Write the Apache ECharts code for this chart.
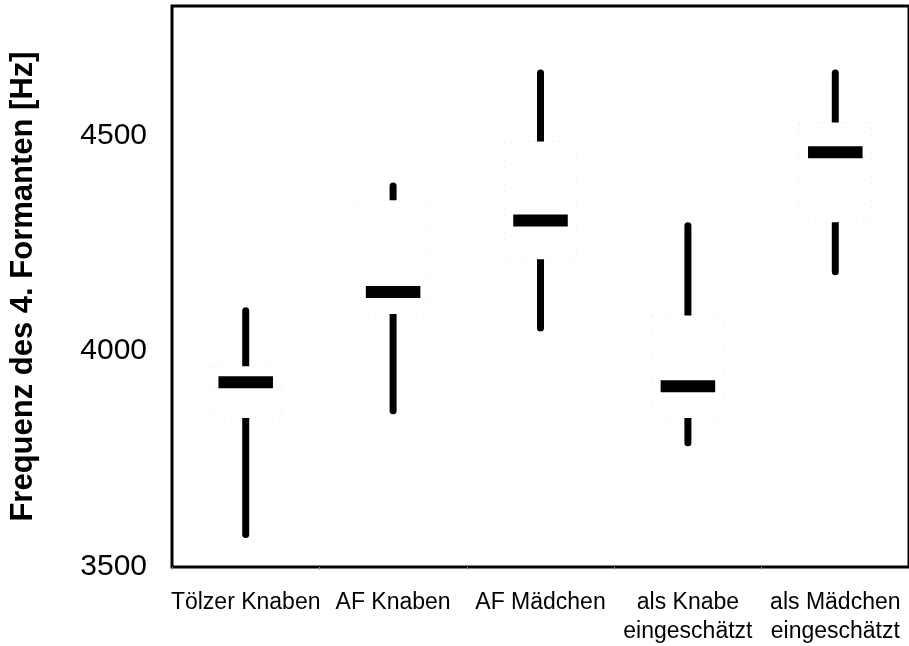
<!DOCTYPE html>
<html>
<head>
<meta charset="utf-8">
<script src="https://cdn.jsdelivr.net/npm/echarts@6/dist/echarts.min.js"></script>
<style>
  html, body { margin: 0; padding: 0; background: #fff; }
  #main { width: 909px; height: 646px; }
</style>
</head>
<body>
<div id="main"></div>
<script>
// Kategorien (x-Achse)
var categories = ['Tölzer Knaben', 'AF Knaben', 'AF Mädchen', 'als Knabe\neingeschätzt', 'als Mädchen\neingeschätzt'];
// Kennwerte je Gruppe [Hz]
var minValues    = [3567, 3854, 4046, 3780, 4176];
var q1Values     = [3845, 4086, 4213, 3845, 4299];
var medianValues = [3928, 4137, 4303, 3919, 4461];
var q3Values     = [3965, 4350, 4486, 4083, 4530];
var maxValues    = [4102, 4391, 4653, 4299, 4653];

var fontFamily = 'Liberation Sans, Arial, sans-serif';

var seriesData = [];
for (var i = 0; i < categories.length; i++) {
    seriesData.push([i, minValues[i], q1Values[i], medianValues[i], q3Values[i], maxValues[i]]);
}

// eine Box zeichnen: weisse Box (kaum sichtbar gepunktet), dicke Whisker, dicker Median
function renderBox(params, api) {
    var idx = api.value(0);
    var pMin = api.coord([idx, api.value(1)]);
    var pQ1 = api.coord([idx, api.value(2)]);
    var pMed = api.coord([idx, api.value(3)]);
    var pQ3 = api.coord([idx, api.value(4)]);
    var pMax = api.coord([idx, api.value(5)]);
    var band = api.size([1, 0])[0];
    var cx = pMed[0];
    var boxW = band * 0.49;
    var medW = band * 0.37;
    var wW = 7;
    return {
        type: 'group',
        children: [
            {
                type: 'rect',
                shape: { x: cx - boxW / 2, y: pQ3[1], width: boxW, height: pQ1[1] - pQ3[1] },
                style: { fill: 'none', stroke: '#e6e6e6', lineWidth: 1, lineDash: [1, 5] }
            },
            {
                type: 'rect',
                shape: { x: cx - wW / 2, y: pMax[1], width: wW, height: pQ3[1] - pMax[1], r: [3.5, 3.5, 0, 0] },
                style: { fill: '#000' }
            },
            {
                type: 'rect',
                shape: { x: cx - wW / 2, y: pQ1[1], width: wW, height: pMin[1] - pQ1[1], r: [0, 0, 3.5, 3.5] },
                style: { fill: '#000' }
            },
            {
                type: 'rect',
                shape: { x: cx - medW / 2, y: pMed[1] - 6, width: medW, height: 12 },
                style: { fill: '#000' }
            }
        ]
    };
}

var myChart = echarts.init(document.getElementById('main'), null, { renderer: 'canvas' });

var option = {
    backgroundColor: '#fff',
    animation: false,
    grid: {
        left: 171,
        right: -3,
        top: 6,
        bottom: 78,
        show: true,
        borderColor: '#000',
        borderWidth: 3,
        backgroundColor: 'transparent'
    },
    xAxis: {
        type: 'category',
        data: categories,
        axisLine: { lineStyle: { color: '#000', width: 2 } },
        axisTick: { show: true, length: 3, lineStyle: { color: '#999', width: 1 } },
        axisLabel: {
            color: '#000',
            fontSize: 23,
            fontFamily: fontFamily,
            lineHeight: 29,
            margin: 21,
            interval: 0
        },
        splitLine: { show: false }
    },
    yAxis: {
        type: 'value',
        min: 3500,
        max: 4800,
        interval: 500,
        name: 'Frequenz des 4. Formanten [Hz]',
        nameLocation: 'middle',
        nameGap: 133,
        nameTextStyle: {
            color: '#000',
            fontSize: 31,
            fontWeight: 'bold',
            fontFamily: fontFamily
        },
        axisLine: { show: true, lineStyle: { color: '#000', width: 2 } },
        axisTick: { show: false },
        axisLabel: {
            color: '#000',
            fontSize: 30,
            fontFamily: fontFamily,
            margin: 25,
            showMaxLabel: false,
            formatter: function (v) { return String(v); }
        },
        splitLine: { show: false }
    },
    series: [
        {
            type: 'custom',
            renderItem: renderBox,
            data: seriesData,
            encode: { x: 0, y: [1, 2, 3, 4, 5] }
        }
    ]
};

myChart.setOption(option);
</script>
</body>
</html>
